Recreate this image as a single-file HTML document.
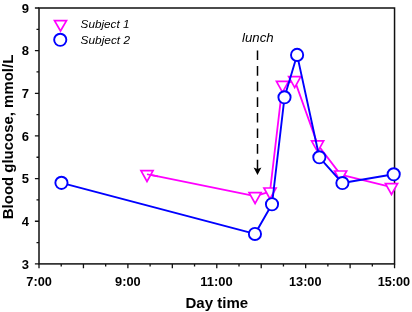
<!DOCTYPE html>
<html><head><meta charset="utf-8"><title>Blood glucose</title>
<style>
html,body{margin:0;padding:0;background:#fff;}
body{width:412px;height:312px;overflow:hidden;font-family:"Liberation Sans",sans-serif;}
svg{display:block;will-change:transform;}
text{font-family:"Liberation Sans",sans-serif;fill:#000;}
.b{font-weight:bold;}
.i{font-style:italic;}
</style></head><body>
<svg width="412" height="312" viewBox="0 0 412 312">
<rect width="412" height="312" fill="#fff"/>
<rect x="39.0" y="8.0" width="355.55" height="255.89999999999998" fill="none" stroke="#111" stroke-width="1.5"/>
<path d="M39.00,263.9 v4.3 M61.22,263.9 v2.6 M83.44,263.9 v4.3 M105.67,263.9 v2.6 M127.89,263.9 v4.3 M150.11,263.9 v2.6 M172.33,263.9 v4.3 M194.55,263.9 v2.6 M216.78,263.9 v4.3 M239.00,263.9 v2.6 M261.22,263.9 v4.3 M283.44,263.9 v2.6 M305.66,263.9 v4.3 M327.88,263.9 v2.6 M350.11,263.9 v4.3 M372.33,263.9 v2.6 M394.55,263.9 v4.3 M39.0,263.90 h-4.1 M39.0,242.57 h-2.5 M39.0,221.25 h-4.1 M39.0,199.92 h-2.5 M39.0,178.60 h-4.1 M39.0,157.27 h-2.5 M39.0,135.95 h-4.1 M39.0,114.62 h-2.5 M39.0,93.30 h-4.1 M39.0,71.97 h-2.5 M39.0,50.65 h-4.1 M39.0,29.33 h-2.5 M39.0,8.00 h-4.1" stroke="#111" stroke-width="1.3" fill="none"/>
<text class="b" x="28.9" y="268.55" font-size="13" text-anchor="end">3</text>
<text class="b" x="28.9" y="225.90" font-size="13" text-anchor="end">4</text>
<text class="b" x="28.9" y="183.25" font-size="13" text-anchor="end">5</text>
<text class="b" x="28.9" y="140.60" font-size="13" text-anchor="end">6</text>
<text class="b" x="28.9" y="97.95" font-size="13" text-anchor="end">7</text>
<text class="b" x="28.9" y="55.30" font-size="13" text-anchor="end">8</text>
<text class="b" x="28.9" y="12.65" font-size="13" text-anchor="end">9</text>
<text class="b" x="26.35" y="285.8" font-size="12.7" textLength="25.6" lengthAdjust="spacingAndGlyphs">7:00</text>
<text class="b" x="115.05" y="285.8" font-size="12.7" textLength="25.6" lengthAdjust="spacingAndGlyphs">9:00</text>
<text class="b" x="200.30" y="285.8" font-size="12.7" textLength="32.5" lengthAdjust="spacingAndGlyphs">11:00</text>
<text class="b" x="289.00" y="285.8" font-size="12.7" textLength="32.5" lengthAdjust="spacingAndGlyphs">13:00</text>
<text class="b" x="377.70" y="285.8" font-size="12.7" textLength="32.5" lengthAdjust="spacingAndGlyphs">15:00</text>
<text class="b" x="185.5" y="308.3" font-size="15" textLength="62.6" lengthAdjust="spacingAndGlyphs">Day time</text>
<text class="b" transform="translate(13.0,219.2) rotate(-90)" font-size="15" textLength="164.5" lengthAdjust="spacingAndGlyphs">Blood glucose, mmol/L</text>
<text class="i" x="242.0" y="42.2" font-size="12.2" textLength="31.6" lengthAdjust="spacingAndGlyphs">lunch</text>
<path d="M257.5,50.5 V169.5" stroke="#000" stroke-width="1.5" stroke-dasharray="9.6 6.0" fill="none"/>
<path d="M257.5,175 L253.6,167.4 L257.5,168.9 L261.4,167.4 Z" fill="#000"/>
<polyline points="147.00,174.23 255.10,196.23 270.00,191.63 282.50,85.03 294.70,80.33 317.60,144.53 340.60,174.63 391.50,187.23" fill="none" stroke="#ff00ff" stroke-width="1.8" stroke-linejoin="round"/>
<path d="M140.95,170.60 L153.05,170.60 L147.00,181.50 Z" fill="#fff" stroke="#ff00ff" stroke-width="1.7" stroke-linejoin="miter"/>
<path d="M249.05,192.60 L261.15,192.60 L255.10,203.50 Z" fill="#fff" stroke="#ff00ff" stroke-width="1.7" stroke-linejoin="miter"/>
<path d="M263.95,188.00 L276.05,188.00 L270.00,198.90 Z" fill="#fff" stroke="#ff00ff" stroke-width="1.7" stroke-linejoin="miter"/>
<path d="M276.45,81.40 L288.55,81.40 L282.50,92.30 Z" fill="#fff" stroke="#ff00ff" stroke-width="1.7" stroke-linejoin="miter"/>
<path d="M288.65,76.70 L300.75,76.70 L294.70,87.60 Z" fill="#fff" stroke="#ff00ff" stroke-width="1.7" stroke-linejoin="miter"/>
<path d="M311.55,140.90 L323.65,140.90 L317.60,151.80 Z" fill="#fff" stroke="#ff00ff" stroke-width="1.7" stroke-linejoin="miter"/>
<path d="M334.55,171.00 L346.65,171.00 L340.60,181.90 Z" fill="#fff" stroke="#ff00ff" stroke-width="1.7" stroke-linejoin="miter"/>
<path d="M385.45,183.60 L397.55,183.60 L391.50,194.50 Z" fill="#fff" stroke="#ff00ff" stroke-width="1.7" stroke-linejoin="miter"/>
<path d="M147.00,174.23 L157.81,176.43" stroke="#ff00ff" stroke-width="1.7" fill="none"/>
<polyline points="61.45,182.85 254.95,233.95 272.00,204.25 284.50,97.30 297.10,54.90 319.35,157.30 342.40,183.05 393.70,174.30" fill="none" stroke="#0000ff" stroke-width="1.9" stroke-linejoin="round"/>
<circle cx="61.45" cy="182.85" r="6.1" fill="#fff" stroke="#0000ff" stroke-width="1.9"/>
<circle cx="254.95" cy="233.95" r="6.1" fill="#fff" stroke="#0000ff" stroke-width="1.9"/>
<circle cx="272.0" cy="204.25" r="6.1" fill="#fff" stroke="#0000ff" stroke-width="1.9"/>
<circle cx="284.5" cy="97.3" r="6.1" fill="#fff" stroke="#0000ff" stroke-width="1.9"/>
<circle cx="297.1" cy="54.9" r="6.1" fill="#fff" stroke="#0000ff" stroke-width="1.9"/>
<circle cx="319.35" cy="157.3" r="6.1" fill="#fff" stroke="#0000ff" stroke-width="1.9"/>
<circle cx="342.4" cy="183.05" r="6.1" fill="#fff" stroke="#0000ff" stroke-width="1.9"/>
<circle cx="393.7" cy="174.3" r="6.1" fill="#fff" stroke="#0000ff" stroke-width="1.9"/>
<path d="M54.5,20.6 L66.5,20.6 L60.5,31.0 Z" fill="#fff" stroke="#ff00ff" stroke-width="1.7"/>
<circle cx="60.25" cy="39.8" r="6.1" fill="#fff" stroke="#0000ff" stroke-width="1.9"/>
<text class="i" x="80.6" y="28" font-size="11.5" textLength="48.8" lengthAdjust="spacingAndGlyphs">Subject 1</text>
<text class="i" x="80.6" y="44.2" font-size="11.5" textLength="49.4" lengthAdjust="spacingAndGlyphs">Subject 2</text>
</svg></body></html>
